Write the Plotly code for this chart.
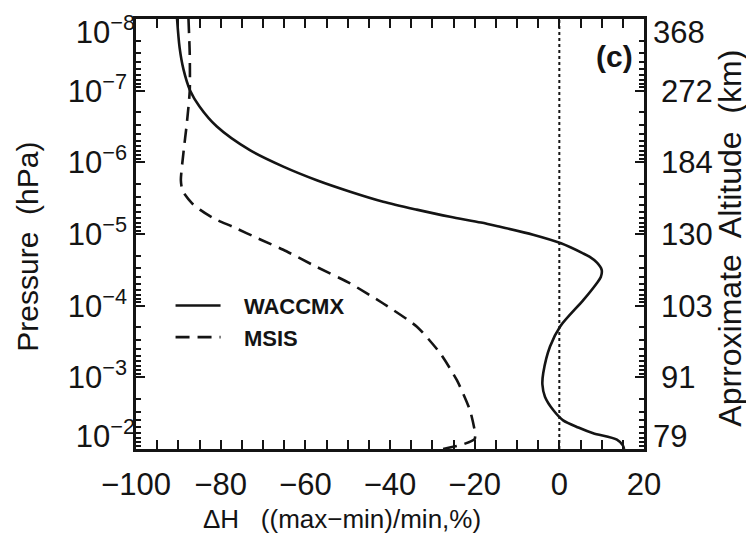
import plotly.graph_objects as go

# ---- data (log10 pressure in hPa, Delta H in %) ----
waccmx_logp = [-8.00, -7.60, -7.30, -7.00, -6.78, -6.50, -6.17, -5.94, -5.75, -5.59,
               -5.45, -5.34, -5.24, -5.16, -5.10, -4.99, -4.87, -4.73, -4.68, -4.60,
               -4.50, -4.40, -4.31, -4.08, -3.71, -3.43, -3.06, -2.90, -2.73, -2.54,
               -2.40, -2.30, -2.22, -2.13, -2.05, -2.00]
waccmx_dh = [-90.3, -89.7, -88.8, -87.2, -85.0, -80.9, -73.1, -65.2, -57.3, -49.4,
             -41.6, -33.7, -25.8, -18.5, -14.0, -6.2, 0.4, 5.6, 7.2, 8.9,
             10.0, 9.8, 8.8, 5.7, 0.2, -2.2, -3.8, -4.0, -3.4, -1.4,
             0.9, 4.5, 8.0, 13.6, 15.0, 15.3]

msis_logp = [-8.00, -7.50, -7.00, -6.54, -6.13, -5.75, -5.60, -5.43, -5.34, -5.22,
             -5.10, -4.92, -4.78, -4.54, -4.31, -4.03, -3.71, -3.34, -2.96, -2.54,
             -2.22, -2.14, -2.07, -2.00]
msis_dh = [-87.6, -87.3, -87.3, -88.0, -88.8, -89.4, -89.0, -86.8, -84.9, -81.7,
           -77.1, -70.5, -65.2, -57.3, -49.4, -41.6, -33.7, -28.2, -24.2, -21.1,
           -19.9, -20.0, -22.5, -27.5]

pressure_tick_exp = [-8, -7, -6, -5, -4, -3, -2]
altitude_labels = ["368", "272", "184", "130", "103", "91", "79"]
x_ticks = [-100, -80, -60, -40, -20, 0, 20]

waccmx_p = [10 ** e for e in waccmx_logp]
msis_p = [10 ** e for e in msis_logp]
p_ticks = [10.0 ** e for e in pressure_tick_exp]
p_labels = ["10<sup>\u2212%d</sup>" % (-e) for e in pressure_tick_exp]
p_minor = [m * 10.0 ** e for e in pressure_tick_exp[:-1] for m in range(2, 10)]

# inner labels sit on the main axes; the two end labels are nudged inside the frame
# (as in the original) by drawing them on label-only axes with a slightly wider range
inner_p_text = [""] + p_labels[1:-1] + [""]
inner_alt_text = [""] + altitude_labels[1:-1] + [""]
end_ticks = [p_ticks[0], p_ticks[-1]]
end_p_text = [p_labels[0], p_labels[-1]]
end_alt_text = [altitude_labels[0], altitude_labels[-1]]
LOG_RANGE = [-2, -8]
END_RANGE = [-1.807, -8.193]

INK = "#141414"
FONT = "Liberation Sans"
PAD = "\u00a0\u00a0\u00a0"

fig = go.Figure()
fig.add_trace(go.Scatter(x=waccmx_dh, y=waccmx_p, mode="lines", name=PAD + "WACCMX",
                         line=dict(color=INK, width=2.6, shape="spline", smoothing=0.8)))
fig.add_trace(go.Scatter(x=msis_dh, y=msis_p, mode="lines", name=PAD + "MSIS",
                         line=dict(color=INK, width=2.6, dash="14px,8px", shape="spline", smoothing=0.6)))
for ax in ["y2", "y3", "y4"]:
    fig.add_trace(go.Scatter(x=[None], y=[None], yaxis=ax, showlegend=False, hoverinfo="skip"))

fig.add_vline(x=0, line=dict(color=INK, width=2, dash="dot"))

axis_common = dict(showgrid=False, zeroline=False, showline=True, linecolor=INK, automargin=False,
                   linewidth=2.6, ticks="inside", tickcolor=INK, tickwidth=2, ticklen=9,
                   ticklabeloverflow="allow")
minor_y = dict(tickvals=p_minor, ticks="inside", ticklen=5, tickwidth=1.6, tickcolor=INK)
label_axis = dict(type="log", range=END_RANGE, overlaying="y", tickvals=end_ticks,
                  showgrid=False, zeroline=False, showline=False, ticks="inside", ticklen=9,
                  tickcolor="rgba(0,0,0,0)", automargin=False, ticklabeloverflow="allow")

# the page body adds an 8 px offset, so margins are shifted by 8 px
fig.update_layout(
    width=754, height=540,
    margin=dict(l=128, r=118, t=11, b=99, autoexpand=False),
    paper_bgcolor="white", plot_bgcolor="white",
    font=dict(family=FONT, size=31, color=INK),
    xaxis=dict(range=[-100, 20], tickvals=x_ticks, mirror="allticks", ticklabelstandoff=6,
               minor=dict(dtick=5, tick0=0, ticks="inside", ticklen=5, tickwidth=1.6, tickcolor=INK),
               **axis_common),
    yaxis=dict(type="log", range=LOG_RANGE, tickvals=p_ticks, ticktext=inner_p_text,
               minor=minor_y, **axis_common),
    yaxis2=dict(type="log", range=LOG_RANGE, overlaying="y", side="right", ticklabelstandoff=8,
                tickvals=p_ticks, ticktext=inner_alt_text, minor=minor_y, **axis_common),
    yaxis3=dict(side="left", ticktext=end_p_text, **label_axis),
    yaxis4=dict(side="right", ticktext=end_alt_text, ticklabelstandoff=8, **label_axis),
    legend=dict(x=0.068, y=0.382, xanchor="left", yanchor="top", bgcolor="rgba(0,0,0,0)",
                font=dict(size=22, weight="bold", family=FONT), itemwidth=45, tracegroupgap=0),
    showlegend=True,
)

fig.add_annotation(text="Pressure  (hPa)", xref="paper", yref="paper", x=-0.213, y=0.47,
                   xanchor="center", yanchor="middle",
                   textangle=-90, showarrow=False, font=dict(size=30, family=FONT, color=INK))
fig.add_annotation(text="Aprroximate  Altitude  (km)", xref="paper", yref="paper", x=1.170, y=0.49,
                   xanchor="center", yanchor="middle",
                   textangle=-90, showarrow=False, font=dict(size=32, family=FONT, color=INK))
fig.add_annotation(text="\u0394H   ((max\u2212min)/min,%)", xref="paper", yref="paper", x=0.405, y=-0.163,
                   xanchor="center", yanchor="middle",
                   showarrow=False, font=dict(size=26, family=FONT, color=INK))
fig.add_annotation(text="(c)", xref="paper", yref="paper", x=0.941, y=0.912,
                   xanchor="center", yanchor="middle",
                   showarrow=False, font=dict(size=30, family=FONT, color=INK, weight="bold"))

fig.write_html("out.html")
